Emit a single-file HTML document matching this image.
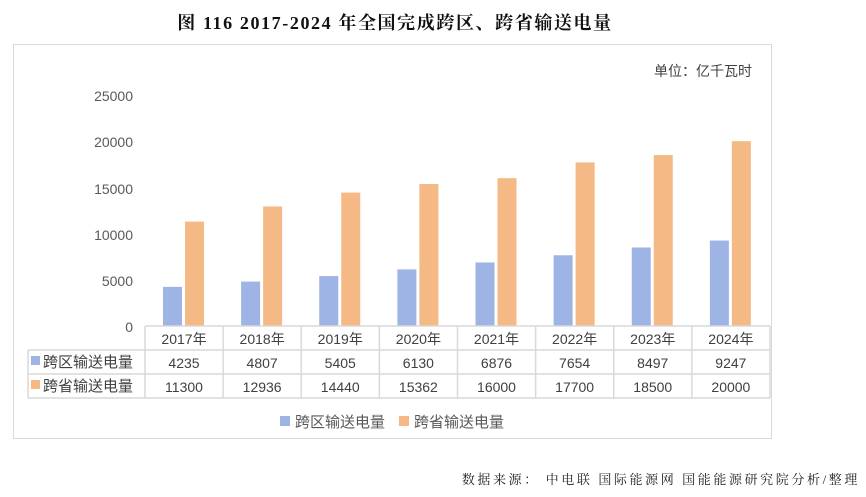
<!DOCTYPE html>
<html><head><meta charset="utf-8"><style>
body{margin:0;background:#fff;}
svg text{font-family:"Liberation Sans","Noto Sans CJK SC",sans-serif;}
</style></head><body>
<svg width="866" height="492" xmlns="http://www.w3.org/2000/svg">
<text x="395" y="29" text-anchor="middle" font-size="18" font-weight="bold" fill="#111" letter-spacing="1.6" style='font-family:"Liberation Serif","Noto Serif CJK SC",serif'>图  116 2017-2024 年全国完成跨区、跨省输送电量</text>
<rect x="13.5" y="44.5" width="758" height="394" fill="#fff" stroke="#d9d9d9"/>
<text x="752" y="76" text-anchor="end" font-size="14" fill="#404040">单位：亿千瓦时</text>
<g font-size="14" fill="#595959" text-anchor="end">
<text x="133" y="101">25000</text><text x="133" y="147">20000</text><text x="133" y="194">15000</text>
<text x="133" y="240">10000</text><text x="133" y="286">5000</text><text x="133" y="332">0</text>
</g>
<g id="bars"></g>
<g stroke="#d9d9d9" stroke-width="1.5" fill="none">
<line x1="145" y1="326" x2="770" y2="326"/>
<line x1="28" y1="350" x2="770" y2="350"/>
<line x1="28" y1="374" x2="770" y2="374"/>
<line x1="28" y1="398" x2="770" y2="398"/>
<line x1="28" y1="350" x2="28" y2="398"/>
<line x1="770" y1="326" x2="770" y2="398"/>
</g>
<g id="tbl"></g>
<rect x="31" y="356" width="9" height="9" fill="#9eb4e4"/>
<text x="43" y="367" font-size="15" fill="#404040">跨区输送电量</text>
<rect x="31" y="380" width="9" height="9" fill="#f4b984"/>
<text x="43" y="391" font-size="15" fill="#404040">跨省输送电量</text>
<rect x="280" y="416" width="10" height="10" fill="#9eb4e4"/>
<text x="295" y="427" font-size="15" fill="#595959">跨区输送电量</text>
<rect x="399" y="416" width="10" height="10" fill="#f4b984"/>
<text x="414" y="427" font-size="15" fill="#595959">跨省输送电量</text>
<text x="860" y="484" text-anchor="end" font-size="13" fill="#222" letter-spacing="2.6" style='font-family:"Liberation Serif","Noto Serif CJK SC",serif'>数据来源： 中电联 国际能源网 国能能源研究院分析/整理</text>
<script>
var a=[4235,4807,5405,6130,6876,7654,8497,9247],b=[11300,12936,14440,15362,16000,17700,18500,20000];
var ns="http://www.w3.org/2000/svg",g=document.getElementById("bars"),t=document.getElementById("tbl");
function el(p,n,at,tx){var e=document.createElementNS(ns,n);for(var k in at)e.setAttribute(k,at[k]);if(tx)e.textContent=tx;p.appendChild(e);}
for(var i=0;i<8;i++){var x0=145+78.125*i,c=x0+39;
var h1=a[i]*231/25000,h2=b[i]*231/25000;
el(g,"rect",{x:c-21,y:326-h1,width:19,height:h1,fill:"#9eb4e4"});
el(g,"rect",{x:c+1,y:326-h2,width:19,height:h2,fill:"#f4b984"});
el(t,"line",{x1:x0,y1:326,x2:x0,y2:398,stroke:"#d9d9d9","stroke-width":1.5});
el(t,"text",{x:c,y:344,"text-anchor":"middle","font-size":14,fill:"#404040"},(2017+i)+"年");
el(t,"text",{x:c,y:368,"text-anchor":"middle","font-size":14,fill:"#404040"},a[i]);
el(t,"text",{x:c,y:392,"text-anchor":"middle","font-size":14,fill:"#404040"},b[i]);}
</script>
</svg>
</body></html>
